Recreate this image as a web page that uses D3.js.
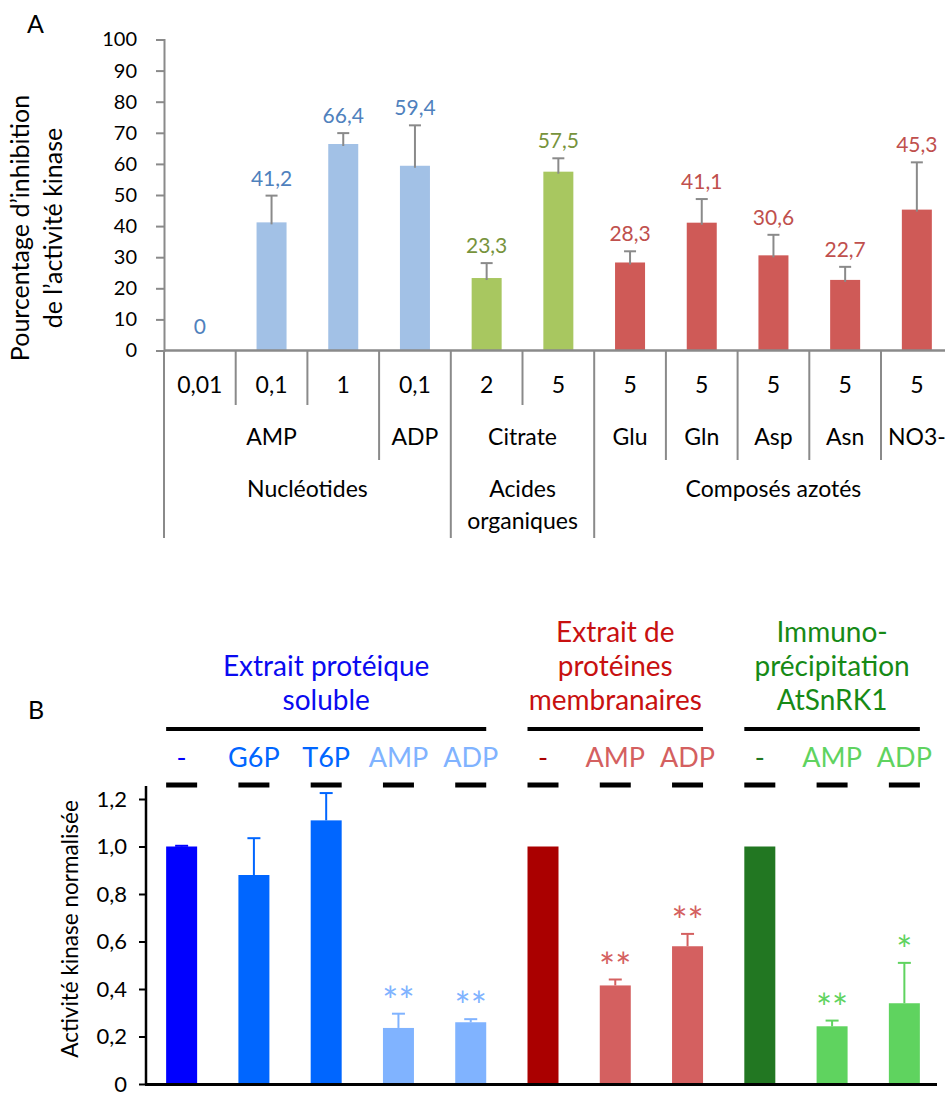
<!DOCTYPE html>
<html><head><meta charset="utf-8">
<script src="https://cdn.jsdelivr.net/npm/d3@7"></script>
<style>
body{margin:0;background:#fff;}
svg{display:block;font-family:Lato,"Open Sans",sans-serif;}
</style></head>
<body>
<svg id="chart" width="945" height="1095"></svg>
<script>
// ---------- Panel A data ----------
const concA = ["0,01","0,1","1","0,1","2","5","5","5","5","5","5"];
const valuesA = [0,41.2,66.4,59.4,23.3,57.5,28.3,41.1,30.6,22.7,45.3];
const errorsA = [0,8.6,3.5,13,4.8,4.3,3.6,7.6,6.6,4.2,15.2];
const classA = [0,0,0,0,1,1,2,2,2,2,2];
const compoundLabels = ["AMP","ADP","Citrate","Glu","Gln","Asp","Asn","NO3-"];
const compoundSpans = [3,1,2,1,1,1,1,1];
const familyLabels = [["Nucléotides"],["Acides","organiques"],["Composés azotés"]];
const familySpans = [4,2,5];
const ticksA = [0,10,20,30,40,50,60,70,80,90,100];
const barColorsA = ["#A2C1E6","#A8C760","#CF5A57"];
const labelColorsA = ["#4F81BD","#77933C","#C0504D"];

// ---------- Panel B data ----------
const conditionsB = ["-","G6P","T6P","AMP","ADP","-","AMP","ADP","-","AMP","ADP"];
const valuesB = [1.0,0.88,1.11,0.236,0.26,1.0,0.415,0.58,1.0,0.243,0.34];
const errorsB = [0.003,0.155,0.115,0.06,0.013,0,0.025,0.052,0,0.024,0.17];
const signifB = ["","","","**","**","","**","**","","**","*"];
const extractLabels = [["Extrait protéique","soluble"],["Extrait de","protéines","membranaires"],["Immuno-","précipitation","AtSnRK1"]];
const extractSpans = [5,3,3];
const extractColors = ["#0A0AF0","#C81010","#168A16"];
const barColorsB = ["#0000FF","#0066FF","#0066FF","#80B3FF","#80B3FF","#AA0000","#D46060","#D46060","#227722","#5FD35F","#5FD35F"];
const ticksB = [0,0.2,0.4,0.6,0.8,1.0,1.2];

const svg = d3.select("#chart");
const fmt = d => d3.format(".1f")(d).replace(".", ",");

// ================= PANEL A =================
const gA = svg.append("g");
const xA = d3.scaleBand().domain(d3.range(concA.length)).range([164, 952.7]).paddingInner(0).paddingOuter(0);
const yA = d3.scaleLinear().domain([0,100]).range([350.5,39.5]);
const grey = "#8A8A8A";
const bwA = 30;
const tableFont = 23;

gA.append("text").attr("x",27).attr("y",33).attr("font-size",25).text("A");

// y axis
const axA = gA.append("g").attr("transform","translate(164,0)")
  .call(d3.axisLeft(yA).tickValues(ticksA).tickSize(8).tickPadding(19).tickFormat(d3.format("d")));
axA.select(".domain").attr("stroke",grey).attr("stroke-width",2);
axA.selectAll(".tick line").attr("stroke",grey).attr("stroke-width",2);
axA.selectAll(".tick text").attr("font-size",20).attr("fill","#000").attr("font-family","Lato");

// y title
gA.append("text").attr("transform","translate(29,228) rotate(-90)").attr("text-anchor","middle")
  .attr("font-size",25).text("Pourcentage d’inhibition");
gA.append("text").attr("transform","translate(62,228) rotate(-90)").attr("text-anchor","middle")
  .attr("font-size",25).text("de l’activité kinase");

// bars
const cx = i => xA(i) + xA.bandwidth()/2;
gA.selectAll("rect.bar").data(valuesA).join("rect")
  .attr("x",(d,i)=>cx(i)-bwA/2).attr("width",bwA)
  .attr("y",d=>yA(d)).attr("height",d=>yA(0)-yA(d))
  .attr("fill",(d,i)=>barColorsA[classA[i]]);
// error bars
valuesA.forEach((v,i)=>{
  if(errorsA[i]<=0) return;
  const top = yA(v+errorsA[i]);
  gA.append("line").attr("x1",cx(i)).attr("x2",cx(i)).attr("y1",yA(v)+2).attr("y2",top).attr("stroke",grey).attr("stroke-width",2);
  gA.append("line").attr("x1",cx(i)-6).attr("x2",cx(i)+6).attr("y1",top).attr("y2",top).attr("stroke",grey).attr("stroke-width",2);
});
// value labels
gA.selectAll("text.val").data(valuesA).join("text")
  .attr("x",(d,i)=>cx(i))
  .attr("y",(d,i)=> (errorsA[i]>0 ? yA(d+errorsA[i]) - 10 : yA(d) - 17))
  .attr("text-anchor","middle").attr("font-size",21)
  .attr("fill",(d,i)=>labelColorsA[classA[i]])
  .text(d=> d===0 ? "0" : fmt(d));

// x axis line
gA.append("line").attr("x1",164).attr("x2",952).attr("y1",yA(0)).attr("y2",yA(0)).attr("stroke",grey).attr("stroke-width",2.5);

// table
const row1Bottom = 405, row2Bottom = 460, row3Bottom = 538;
gA.append("line").attr("x1",164).attr("x2",164).attr("y1",yA(0)).attr("y2",row3Bottom).attr("stroke",grey).attr("stroke-width",2);
concA.forEach((c,i)=>{
  gA.append("text").attr("x",cx(i)).attr("y",393).attr("text-anchor","middle").attr("font-size",tableFont).text(c);
});
const compBounds = new Set(); let acc=0; compoundSpans.forEach(s=>{acc+=s; compBounds.add(acc);});
const famBounds = new Set(); acc=0; familySpans.forEach(s=>{acc+=s; famBounds.add(acc);});
for(let k=1;k<=concA.length;k++){
  const x = xA(0) + k*xA.bandwidth();
  let yb = row1Bottom;
  if(compBounds.has(k)) yb = row2Bottom;
  if(famBounds.has(k)) yb = row3Bottom;
  gA.append("line").attr("x1",x).attr("x2",x).attr("y1",yA(0)).attr("y2",yb).attr("stroke",grey).attr("stroke-width",2);
}
acc=0;
compoundLabels.forEach((c,j)=>{
  const s=acc, e=acc+compoundSpans[j]; acc=e;
  const mx = (xA(0)+s*xA.bandwidth() + xA(0)+e*xA.bandwidth())/2;
  gA.append("text").attr("x",mx).attr("y",445).attr("text-anchor","middle").attr("font-size",tableFont).text(c);
});
acc=0;
familyLabels.forEach((lines,j)=>{
  const s=acc, e=acc+familySpans[j]; acc=e;
  const mx = (xA(0)+s*xA.bandwidth() + xA(0)+e*xA.bandwidth())/2;
  lines.forEach((t,li)=>{
    gA.append("text").attr("x",mx).attr("y",497+li*32).attr("text-anchor","middle").attr("font-size",tableFont).text(t);
  });
});

// ================= PANEL B =================
const gB = svg.append("g");
const xB = d3.scaleBand().domain(d3.range(conditionsB.length)).range([145.5, 940.5]);
const yB = d3.scaleLinear().domain([0,1.2]).range([1084,799]);
const bwB = 31;
const cxB = i => xB(i) + xB.bandwidth()/2;

gB.append("text").attr("x",28).attr("y",719).attr("font-size",25).text("B");

const axB = gB.append("g").attr("transform","translate(146,0)")
  .call(d3.axisLeft(yB).tickValues(ticksB).tickSize(7).tickPadding(12).tickFormat(d=> d===0 ? "0" : fmt(d)));
axB.select(".domain").remove();
axB.selectAll(".tick line").attr("stroke","#000").attr("stroke-width",2);
axB.selectAll(".tick text").attr("font-size",22).attr("fill","#000").attr("font-family","Lato");
gB.append("line").attr("x1",146).attr("x2",146).attr("y1",786).attr("y2",1085).attr("stroke","#000").attr("stroke-width",2.5);

gB.append("text").attr("transform","translate(78,929) rotate(-90)").attr("text-anchor","middle")
  .attr("font-size",22.5).text("Activité kinase normalisée");

gB.selectAll("rect.bar").data(valuesB).join("rect")
  .attr("x",(d,i)=>cxB(i)-bwB/2).attr("width",bwB)
  .attr("y",d=>yB(d)).attr("height",d=>yB(0)-yB(d))
  .attr("fill",(d,i)=>barColorsB[i]);
valuesB.forEach((v,i)=>{
  if(errorsB[i]<=0) return;
  const top = yB(v+errorsB[i]);
  gB.append("line").attr("x1",cxB(i)).attr("x2",cxB(i)).attr("y1",yB(v)).attr("y2",top).attr("stroke",barColorsB[i]).attr("stroke-width",2);
  gB.append("line").attr("x1",cxB(i)-6.5).attr("x2",cxB(i)+6.5).attr("y1",top).attr("y2",top).attr("stroke",barColorsB[i]).attr("stroke-width",2);
});
signifB.forEach((s,i)=>{
  if(!s) return;
  gB.append("text").attr("x",cxB(i)).attr("y",yB(valuesB[i]+errorsB[i]) + 1)
    .attr("text-anchor","middle").attr("font-size",38).attr("fill",barColorsB[i]).text(s);
});
gB.append("line").attr("x1",145).attr("x2",937).attr("y1",1084.5).attr("y2",1084.5).attr("stroke","#000").attr("stroke-width",3);

conditionsB.forEach((c,i)=>{
  gB.append("text").attr("x",cxB(i)).attr("y",767).attr("text-anchor","middle").attr("font-size",27)
    .attr("fill",barColorsB[i]).text(c);
  gB.append("rect").attr("x",cxB(i)-bwB/2).attr("width",bwB).attr("y",782.5).attr("height",5).attr("fill","#000");
});
acc=0;
extractLabels.forEach((lines,j)=>{
  const s=acc, e=acc+extractSpans[j]-1; acc+=extractSpans[j];
  const x1 = cxB(s)-bwB/2, x2 = cxB(e)+bwB/2;
  gB.append("rect").attr("x",x1).attr("width",x2-x1).attr("y",727).attr("height",4).attr("fill","#000");
  const n = lines.length;
  lines.forEach((t,li)=>{
    gB.append("text").attr("x",(x1+x2)/2).attr("y",710 - (n-1-li)*34)
      .attr("text-anchor","middle").attr("font-size",28).attr("fill",extractColors[j]).text(t);
  });
});
</script>
</body></html>
